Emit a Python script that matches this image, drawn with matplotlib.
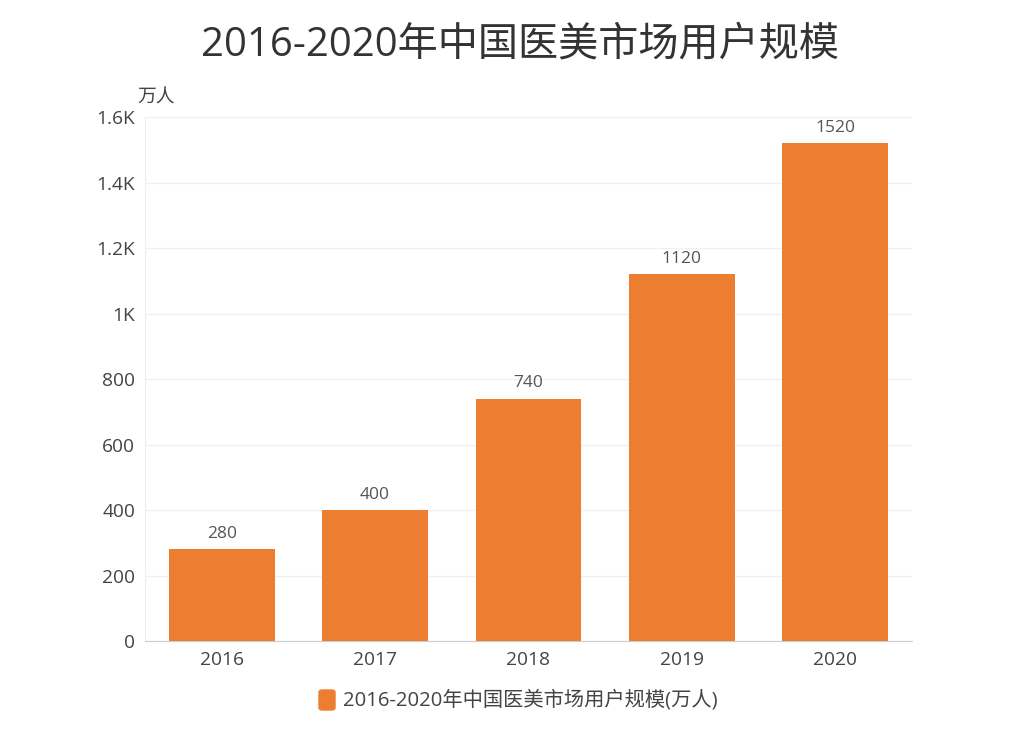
import matplotlib
matplotlib.use("Agg")
import matplotlib.pyplot as plt
from matplotlib.ticker import FuncFormatter
from matplotlib.patches import FancyBboxPatch

plt.rcParams['font.family'] = ['Open Sans', 'Noto Sans CJK SC', 'DejaVu Sans']

years = ["2016", "2017", "2018", "2019", "2020"]
users = [280, 400, 740, 1120, 1520]
series_name = "2016-2020年中国医美市场用户规模(万人)"
title = "2016-2020年中国医美市场用户规模"
bar_color = "#ED7D31"

fig = plt.figure(figsize=(10.24, 7.31), dpi=100)
ax = fig.add_axes([0.1416, 0.1231, 0.749, 0.7168])

xlocs = list(range(len(years)))
bars = ax.bar(xlocs, users, width=0.69, color=bar_color, zorder=3)
for x, v in zip(xlocs, users):
    ax.text(x, v + 22, str(v), ha="center", va="bottom", fontsize=12.5, color="#555555")

ax.set_xlim(-0.5, 4.5)
ax.set_ylim(0, 1600)
ax.set_yticks(range(0, 1601, 200))


def kfmt(v, pos):
    if v >= 1000:
        s = "%g" % (v / 1000)
        return s + "K"
    return "%d" % v


ax.yaxis.set_major_formatter(FuncFormatter(kfmt))
ax.set_xticks(xlocs)
ax.set_xticklabels(years)
ax.tick_params(axis="both", length=0, labelsize=13.8, colors="#444444")
ax.tick_params(axis="y", pad=7)
ax.tick_params(axis="x", pad=7)
ax.grid(axis="y", color="#f0f0f0", linewidth=1, zorder=0)
for s in ["top", "right"]:
    ax.spines[s].set_visible(False)
ax.spines["left"].set_color("#eeeeee")
ax.spines["bottom"].set_color("#cccccc")

ax.text(-0.01, 1.02, "万人", transform=ax.transAxes, fontsize=13.5, color="#444444",
        ha="left", va="bottom")

fig.text(0.508, 0.938, title, ha="center", va="center", fontsize=28.9, color="#333333")

# legend
fig.patches.append(FancyBboxPatch((319 / 1024, 1 - 710 / 731), 16 / 1024, 20 / 731,
                                  boxstyle="round,pad=0,rounding_size=0.003",
                                  transform=fig.transFigure, color=bar_color))
fig.text(343 / 1024, 1 - 700 / 731, series_name, ha="left", va="center",
         fontsize=14.6, color="#444444")

fig.savefig("out.png", dpi=100)
